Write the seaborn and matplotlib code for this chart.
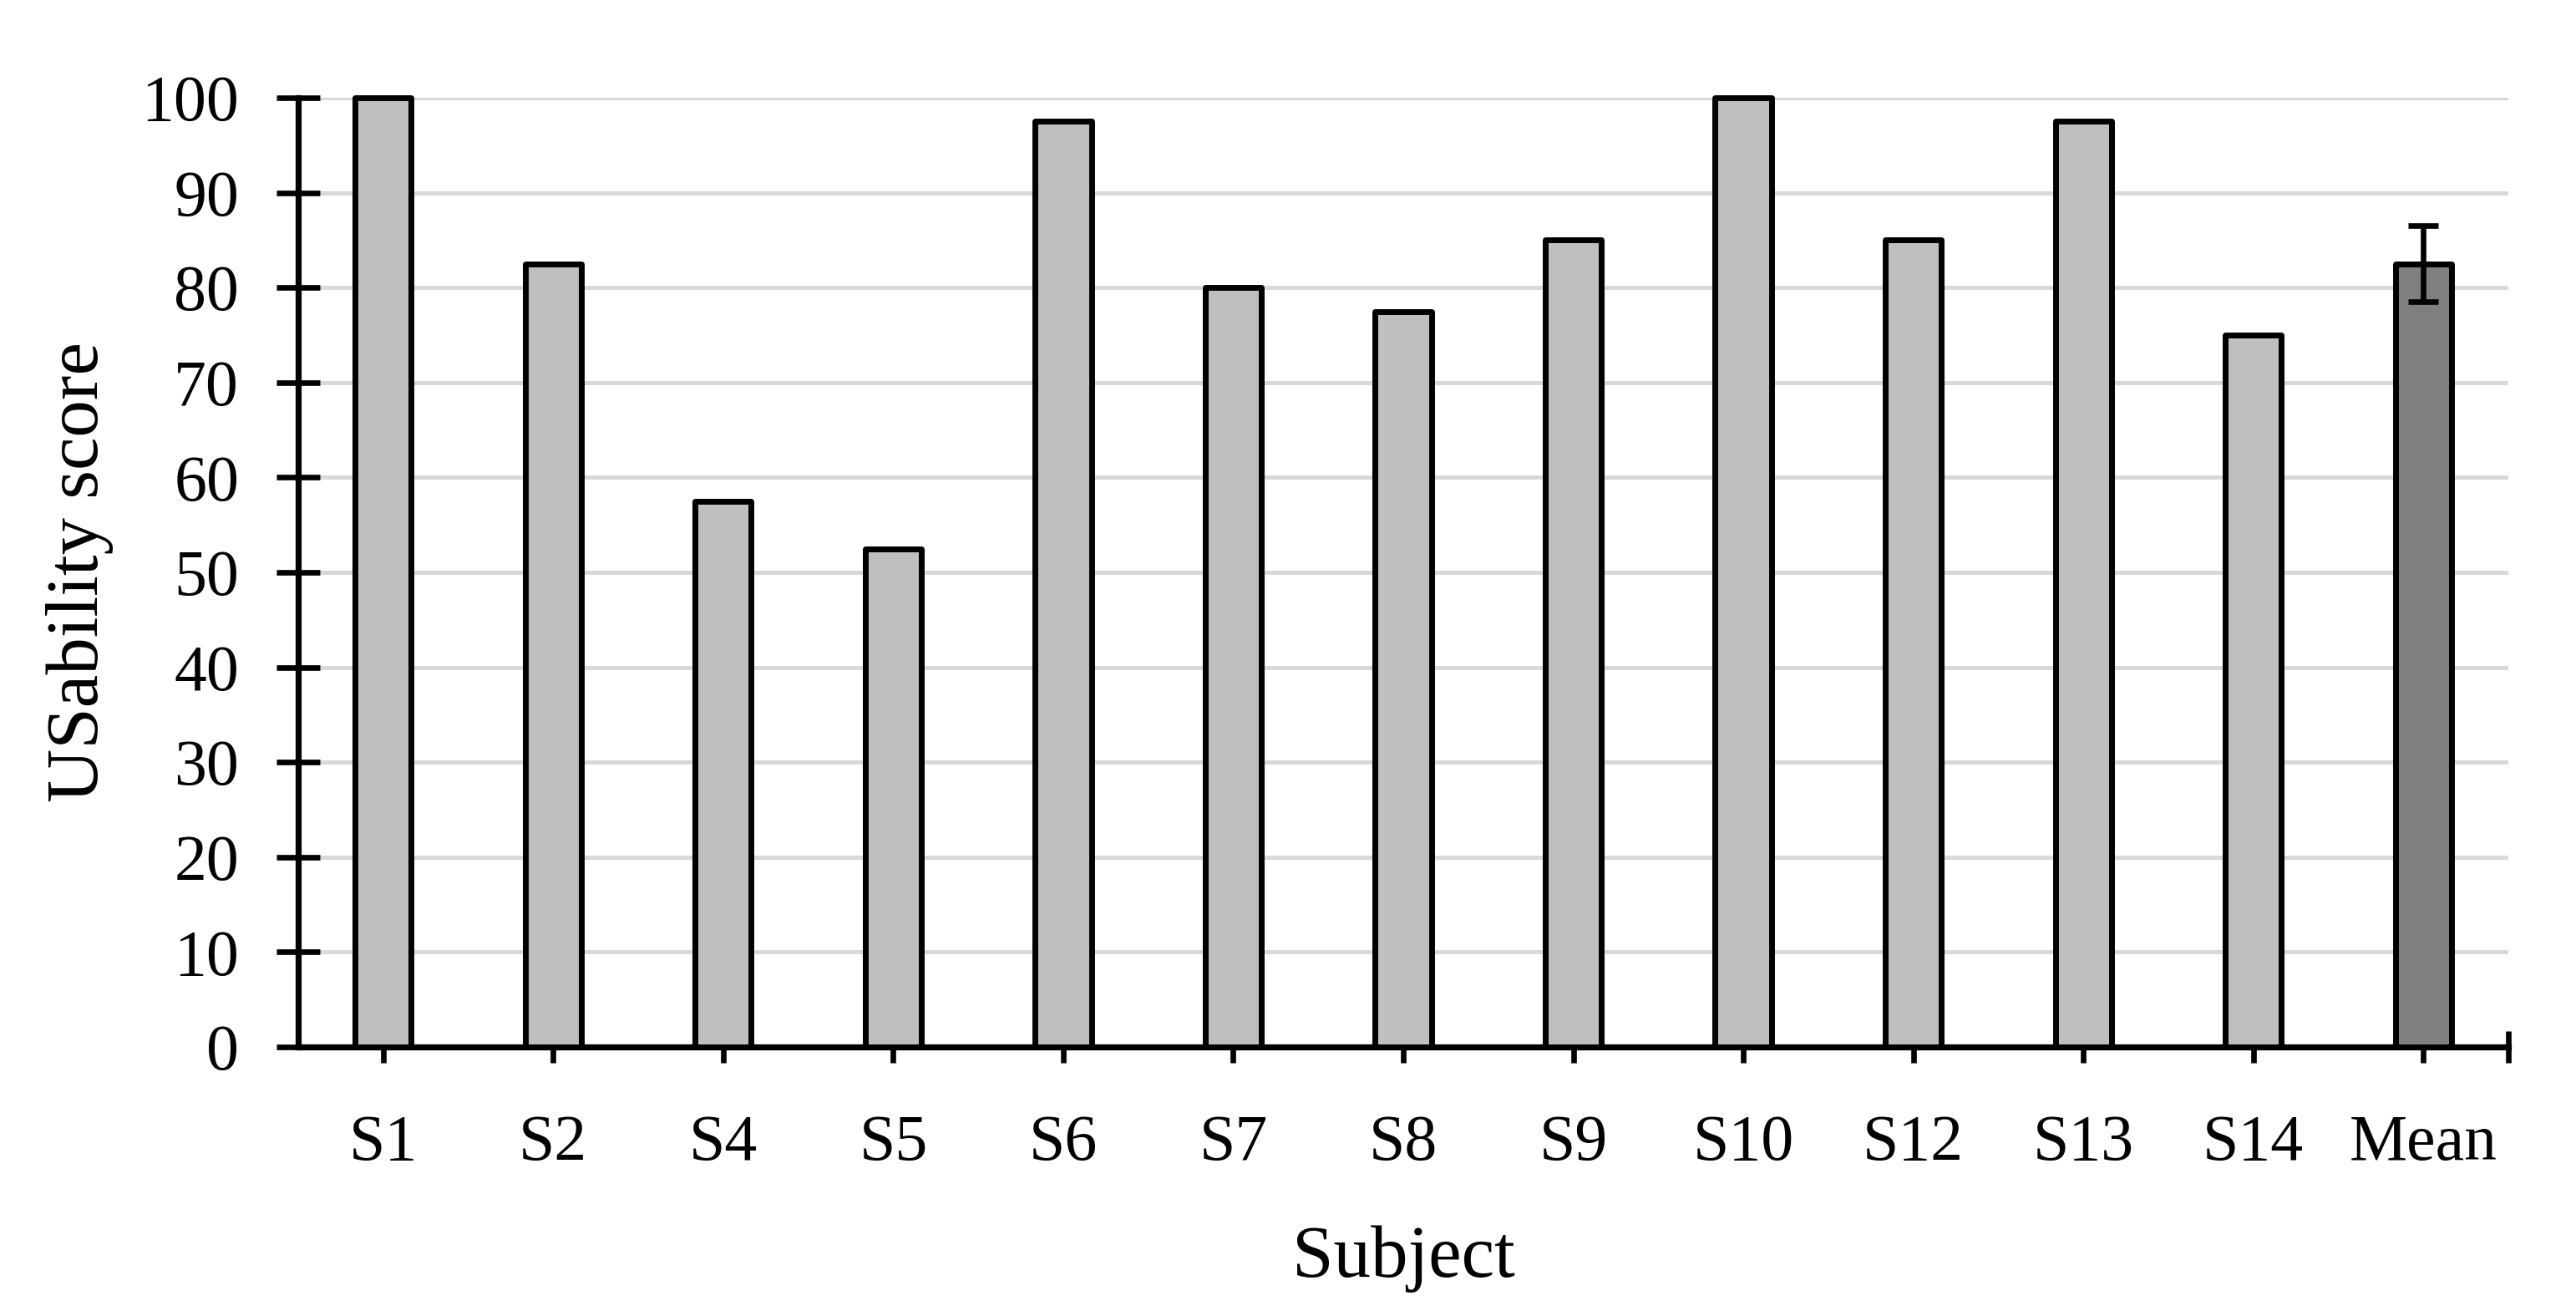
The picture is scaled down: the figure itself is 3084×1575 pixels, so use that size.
import matplotlib
matplotlib.use('Agg')
from matplotlib import pyplot as plt
import seaborn as sns
import pandas as pd

subjects = ['S1', 'S2', 'S4', 'S5', 'S6', 'S7', 'S8', 'S9', 'S10', 'S12', 'S13', 'S14', 'Mean']
scores = [100, 82.5, 57.5, 52.5, 97.5, 80, 77.5, 85, 100, 85, 97.5, 75, 82.5]
mean_err = 4.0
bar_colors = ['#bfbfbf'] * 12 + ['#7f7f7f']

df = pd.DataFrame({'Subject': subjects, 'score': scores})

sns.set_theme(style='white')
plt.rcParams['font.family'] = ['Liberation Serif', 'DejaVu Serif']
plt.rcParams['text.color'] = 'black'
plt.rcParams['axes.labelcolor'] = 'black'
plt.rcParams['xtick.color'] = 'black'
plt.rcParams['ytick.color'] = 'black'
TICK_FS = 28
LABEL_FS = 32

DPI = 200
fig = plt.figure(figsize=(3084 / DPI, 1575 / DPI), dpi=DPI)
ax = fig.add_axes([357 / 3084, 1 - 1253 / 1575, (3003 - 357) / 3084, (1253 - 117) / 1575])

sns.barplot(ax=ax, data=df, x='Subject', y='score', hue='Subject',
            palette=bar_colors, width=0.33, edgecolor='black', linewidth=2.5,
            legend=False, zorder=3)
for p in ax.patches:
    p.set_clip_on(False)
    p.set_joinstyle('round')

ax.errorbar(len(subjects) - 1, scores[-1], yerr=mean_err, fmt='none',
            ecolor='black', elinewidth=2.4, capsize=6.5, capthick=2.4, zorder=4)

ax.set_ylim(0, 100)
ax.set_xlim(-0.5, len(subjects) - 0.5)
ax.set_yticks(range(0, 101, 10))
ax.yaxis.grid(True, color='#d9d9d9', linewidth=1.8, zorder=0)
ax.set_axisbelow(True)
ax.set_xticks([len(subjects) - 0.5], minor=True)

for s in ['top', 'right']:
    ax.spines[s].set_visible(False)
for s in ['left', 'bottom']:
    ax.spines[s].set_color('black')
    ax.spines[s].set_linewidth(2.6)

ax.tick_params(axis='y', which='major', direction='inout', length=19, width=2.4,
               labelsize=TICK_FS, pad=16, left=True)
ax.tick_params(axis='x', which='both', direction='inout', length=14, width=2.4,
               labelsize=TICK_FS, pad=22, bottom=True)

ax.set_xlabel('Subject', fontsize=LABEL_FS, labelpad=22)
ax.set_ylabel('USability score', fontsize=LABEL_FS, labelpad=12)

fig.savefig('out.png', dpi=DPI)
